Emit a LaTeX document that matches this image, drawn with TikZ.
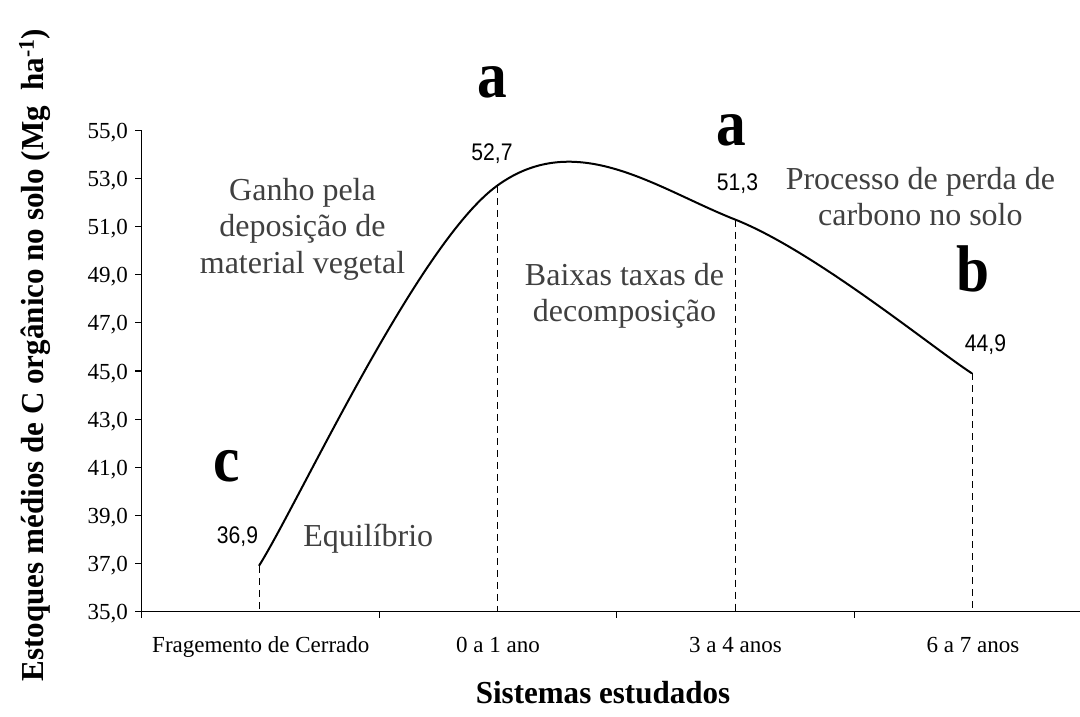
\documentclass[tikz,border=0pt]{standalone}
\usepackage{fontspec}
\setmainfont{Liberation Serif}
\newfontfamily\numfont[FakeStretch=0.88]{Liberation Sans}
\newfontfamily\bigfont[FakeStretch=0.9]{Liberation Serif}
\newfontfamily\titlefont[FakeStretch=0.97]{Liberation Serif}
\definecolor{notegray}{RGB}{64,64,64}
\begin{document}
\begin{tikzpicture}[x=1pt,y=-1pt,
  axisline/.style={line width=1.3pt,black},
  tickline/.style={line width=1.1pt,black},
  guide/.style={line width=1pt,black,dash pattern=on 7pt off 5pt},
  curveline/.style={line width=2pt,black,line join=round},
  ticklab/.style={anchor=base east,inner sep=0pt,font=\fontsize{23}{23}\selectfont},
  catlab/.style={anchor=base,inner sep=0pt,font=\fontsize{23}{23}\selectfont},
  vallab/.style={anchor=base,inner sep=0pt,font=\numfont\fontsize{24}{24}\selectfont},
  letter/.style={anchor=base,inner sep=0pt,font=\bigfont\bfseries\fontsize{66}{66}\selectfont},
  note/.style={anchor=base,inner sep=0pt,text=notegray,font=\fontsize{32}{32}\selectfont},
  axtitle/.style={anchor=base,inner sep=0pt,font=\titlefont\bfseries\fontsize{32}{32}\selectfont},
]
\useasboundingbox (0,0) rectangle (1080,717);

% axes corners
\coordinate (origin) at (141.7,611.5);
\coordinate (ytop) at (141.7,130.5);
\coordinate (xend) at (1091.8,611.5);
\coordinate (ybot) at (141.7,618);

% y ticks and labels
\foreach \v in {35,37,...,55}{
  \pgfmathsetmacro\yy{611.5-(\v-35)*24.05}
  \coordinate (yt\v) at (141.7,\yy);
  \coordinate (ytl\v) at (135,\yy);
  \draw[tickline] (ytl\v) -- (yt\v);
  \node[ticklab] (ylab\v) at (128,\yy+8) {\v,0};
}

% x ticks
\foreach \xx [count=\i] in {141.7,379.3,616.8,854.3,1091.8}{
  \coordinate (xt\i) at (\xx,611.5);
  \coordinate (xtb\i) at (\xx,618);
  \draw[tickline] (xt\i) -- (xtb\i);
}

% axes
\draw[axisline] (ybot) -- (ytop);
\draw[axisline] (origin) -- (xend);

% data points
\coordinate (p0) at (259,565.8);
\coordinate (p1) at (497,185.8);
\coordinate (p2) at (735,219.5);
\coordinate (p3) at (972,373.4);
\coordinate (c0a) at (298.7,502.5);
\coordinate (c0b) at (417.7,243.5);
\coordinate (c1a) at (576.3,128.1);
\coordinate (c1b) at (655.8,188.2);
\coordinate (c2a) at (814.2,250.8);
\coordinate (c2b) at (932.5,347.8);

% guide lines
\foreach \p in {p0,p1,p2,p3}{
  \draw[guide] (\p) -- (\p |- origin);
}

% curve
\draw[curveline] (p0) .. controls (c0a) and (c0b) .. (p1)
  .. controls (c1a) and (c1b) .. (p2)
  .. controls (c2a) and (c2b) .. (p3);

% value labels
\node[vallab] (v0) at (237.5,543.3) {36,9};
\node[vallab] (v1) at (492,160) {52,7};
\node[vallab] (v2) at (737.5,190.7) {51,3};
\node[vallab] (v3) at (985.5,351.7) {44,9};

% letters
\node[letter] (la1) at (492,97.5) {a};
\node[letter] (la2) at (731.7,145) {a};
\node[letter] (lb) at (973.5,291) {b};
\node[letter] (lc) at (226.5,481) {c};

% notes
\node[note] (g1) at (302.5,200) {Ganho pela};
\node[note] (g2) at (302.5,236.7) {deposição de};
\node[note] (g3) at (302.5,273.3) {material vegetal};
\node[note] (b1) at (624.5,285) {Baixas taxas de};
\node[note] (b2) at (624.5,321.7) {decomposição};
\node[note] (pr1) at (920.4,189.3) {Processo de perda de};
\node[note] (pr2) at (920.4,225) {carbono no solo};
\node[note] (eq) at (368.3,546) {Equilíbrio};

% category labels
\node[catlab] (cat1) at (260.8,652) {Fragemento de Cerrado};
\node[catlab] (cat2) at (498,652) {0 a 1 ano};
\node[catlab] (cat3) at (735.5,652) {3 a 4 anos};
\node[catlab] (cat4) at (973,652) {6 a 7 anos};

% axis titles
\node[axtitle] (xtitle) at (603,703.3) {Sistemas estudados};
\node[axtitle,rotate=90] (ytitle) at (43,355) {Estoques médios de C orgânico no solo (Mg\ \ ha\textsuperscript{-1})};
\end{tikzpicture}
\end{document}
